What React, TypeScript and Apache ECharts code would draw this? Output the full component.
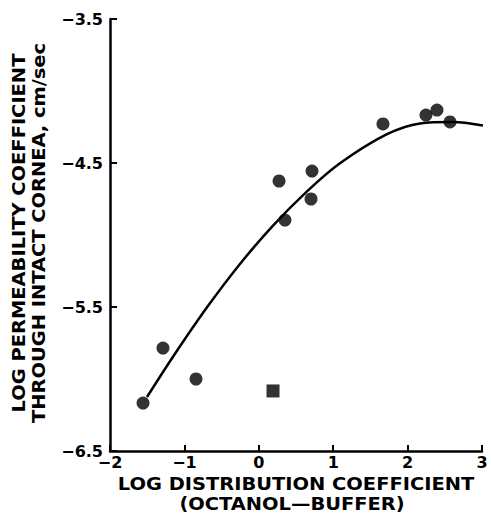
import React, { useEffect, useRef } from "react";
import * as echarts from "echarts";

const circlePoints: [number, number][] = [
  [-1.556, -6.167],
  [-1.288, -5.785],
  [-0.844, -6.0],
  [0.272, -4.625],
  [0.715, -4.556],
  [0.702, -4.75],
  [0.352, -4.896],
  [1.669, -4.229],
  [2.247, -4.167],
  [2.395, -4.132],
  [2.57, -4.215],
];
const squarePoints: [number, number][] = [[0.191, -6.083]];
const curvePoints: [number, number][] = [
  [-1.503, -6.125],
  [-1.153, -5.845],
  [-0.696, -5.502],
  [-0.253, -5.201],
  [0.191, -4.935],
  [0.648, -4.697],
  [1.091, -4.502],
  [1.723, -4.3],
  [2.167, -4.225],
  [2.61, -4.216],
  [3.013, -4.24],
];
const yTicks = [-6.5, -5.5, -4.5, -3.5];
const xTitle = ["LOG DISTRIBUTION COEFFICIENT", "(OCTANOL\u2014BUFFER)"];
const yTitle = ["LOG PERMEABILITY COEFFICIENT", "THROUGH INTACT CORNEA, cm/sec"];

const FONT = '"DejaVu Sans", "Liberation Sans", sans-serif';
const fmt = (v: number) => (v < 0 ? "\u2212" + Math.abs(v) : String(v));

export default function App() {
  const ref = useRef<HTMLDivElement>(null);
  useEffect(() => {
    if (!ref.current) return;
    const chart = echarts.init(ref.current, undefined, { renderer: "svg" });
    const labelStyle = { color: "#000", fontFamily: FONT, fontWeight: "bold" as const, fontSize: 16 };
    const titleFont = `bold 18px ${FONT}`;
    const sx = 1.08;
    chart.setOption({
      animation: false,
      backgroundColor: "#fff",
      grid: { left: 110, right: 9, top: 19, bottom: 62, containLabel: false },
      xAxis: {
        type: "value",
        min: -2,
        max: 3,
        interval: 1,
        splitLine: { show: false },
        axisLine: { onZero: false, lineStyle: { color: "#000", width: 2.5 } },
        axisTick: { inside: true, length: 6, lineStyle: { color: "#000", width: 2 } },
        axisLabel: { ...labelStyle, margin: 3, formatter: fmt },
      },
      yAxis: {
        type: "value",
        min: -6.5,
        max: -3.5,
        splitLine: { show: false },
        axisLine: { show: true, onZero: false, lineStyle: { color: "#000", width: 2.5 } },
        axisTick: { show: true, inside: true, length: 7, customValues: yTicks, lineStyle: { color: "#000", width: 2 } },
        axisLabel: { ...labelStyle, margin: 7, customValues: yTicks, formatter: fmt },
      },
      graphic: [
        {
          type: "text",
          x: 296,
          y: 484,
          scaleX: sx,
          style: { text: xTitle[0], fill: "#000", font: titleFont, textAlign: "center", textVerticalAlign: "middle" },
        },
        {
          type: "text",
          x: 292,
          y: 504,
          scaleX: sx,
          style: { text: xTitle[1], fill: "#000", font: titleFont, textAlign: "center", textVerticalAlign: "middle" },
        },
        {
          type: "text",
          x: 19,
          y: 233,
          rotation: Math.PI / 2,
          scaleX: sx,
          style: { text: yTitle[0], fill: "#000", font: titleFont, textAlign: "center", textVerticalAlign: "middle" },
        },
        {
          type: "text",
          x: 39,
          y: 233,
          rotation: Math.PI / 2,
          scaleX: sx,
          style: { text: yTitle[1], fill: "#000", font: titleFont, textAlign: "center", textVerticalAlign: "middle" },
        },
      ],
      series: [
        {
          type: "line",
          data: curvePoints,
          smooth: 0.3,
          showSymbol: false,
          clip: false,
          lineStyle: { color: "#000", width: 2.5 },
          z: 2,
        },
        {
          type: "scatter",
          data: circlePoints,
          symbol: "circle",
          symbolSize: 13,
          itemStyle: { color: "#000" },
          z: 3,
        },
        {
          type: "scatter",
          data: squarePoints,
          symbol: "rect",
          symbolSize: 13,
          itemStyle: { color: "#000" },
          z: 3,
        },
      ],
    });
    return () => chart.dispose();
  }, []);
  return <div ref={ref} style={{ position: "fixed", left: 0, top: 0, width: 491, height: 513 }} />;
}
